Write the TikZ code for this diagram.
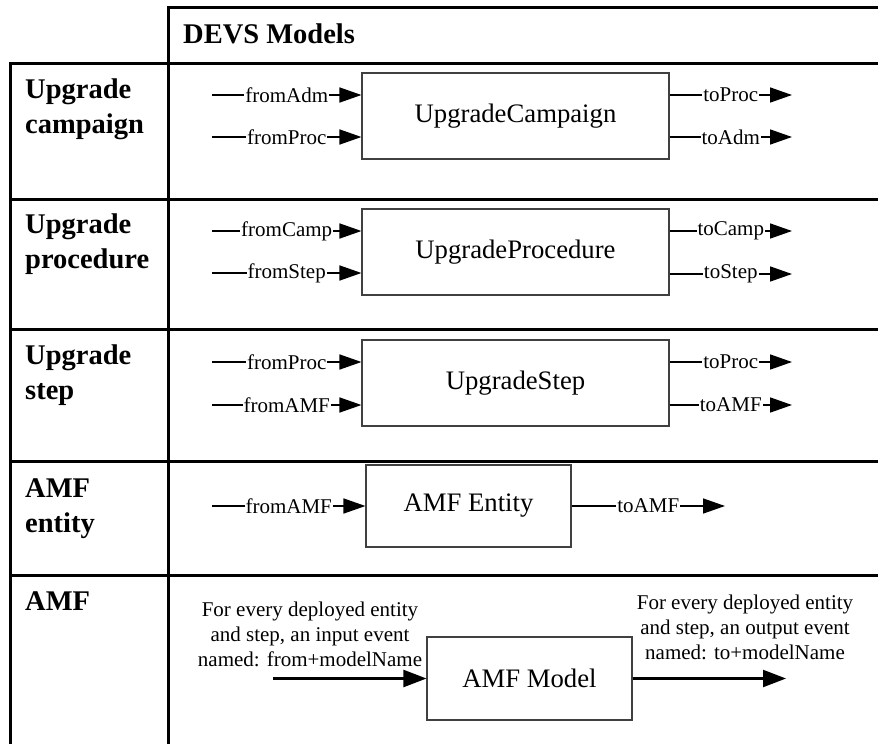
\documentclass[tikz,border=0pt]{standalone}
\usepackage{fontspec}
\setmainfont{Liberation Serif}
\usetikzlibrary{arrows.meta}
\begin{document}
\begin{tikzpicture}[x=1pt,y=-1pt,
  grid/.style={line width=3pt,line cap=rect},
  model/.style={draw=black!75,line width=1.1pt,fill=white,inner sep=0pt,font=\fontsize{26.7}{32}\selectfont},
  port/.style={line width=1.6pt,-{Triangle[length=22pt,width=15pt]}},
  bigport/.style={line width=2.2pt,-{Triangle[length=23pt,width=17pt]}},
  lbl/.style={fill=white,inner xsep=1pt,inner ysep=0pt,font=\fontsize{21}{25}\selectfont},
  rowhead/.style={anchor=base west,inner sep=0pt,font=\fontsize{28.5}{35}\selectfont\bfseries},
  note/.style={align=center,inner sep=0pt,font=\fontsize{21}{25}\selectfont}]
\useasboundingbox (0,0) rectangle (878,744);
% table
\draw[grid] (168,7) -- (878,7);
\draw[grid] (168,7) -- (168,744);
\draw[grid] (10,63) -- (10,744);
\foreach \yy in {63,199,329,461,575} \draw[grid] (10,\yy) -- (878,\yy);
\node[rowhead] (hdr) at (183,43) {DEVS Models};
% row headers
\node[rowhead] (h1a) at (25,98) {Upgrade};
\node[rowhead] (h1b) at (25,133) {campaign};
\node[rowhead] (h2a) at (25,233) {Upgrade};
\node[rowhead] (h2b) at (25,268) {procedure};
\node[rowhead] (h3a) at (25,364) {Upgrade};
\node[rowhead] (h3b) at (25,399) {step};
\node[rowhead] (h4a) at (25,497) {AMF};
\node[rowhead] (h4b) at (25,532) {entity};
\node[rowhead] (h5a) at (25,610) {AMF};
% models
\node[model,minimum width=307pt,minimum height=86pt] (cb) at (515.5,116) {UpgradeCampaign};
\node[model,minimum width=307pt,minimum height=86pt] (pb) at (515.5,252) {UpgradeProcedure};
\node[model,minimum width=307pt,minimum height=86pt] (sb) at (515.5,383) {UpgradeStep};
\node[model,minimum width=205pt,minimum height=82pt] (eb) at (468.5,506) {AMF Entity};
\node[model,minimum width=205pt,minimum height=83pt] (mb) at (529.5,678.5) {AMF Model};
% row 1
\coordinate (c1i) at (212,95); \coordinate (c2i) at (212,137);
\coordinate (c1o) at (792,95); \coordinate (c2o) at (792,137);
\draw[port] (c1i) -- node[lbl]{fromAdm} (c1i -| cb.west);
\draw[port] (c2i) -- node[lbl]{fromProc} (c2i -| cb.west);
\draw[port] (c1o -| cb.east) -- node[lbl]{toProc} (c1o);
\draw[port] (c2o -| cb.east) -- node[lbl]{toAdm} (c2o);
% row 2
\coordinate (p1i) at (212,231); \coordinate (p2i) at (212,273);
\coordinate (p1o) at (792,231); \coordinate (p2o) at (792,274);
\draw[port] (p1i) -- node[lbl]{fromCamp} (p1i -| pb.west);
\draw[port] (p2i) -- node[lbl]{fromStep} (p2i -| pb.west);
\draw[port] (p1o -| pb.east) -- node[lbl]{toCamp} (p1o);
\draw[port] (p2o -| pb.east) -- node[lbl]{toStep} (p2o);
% row 3
\coordinate (s1i) at (212,362); \coordinate (s2i) at (212,405);
\coordinate (s1o) at (792,362); \coordinate (s2o) at (792,405);
\draw[port] (s1i) -- node[lbl]{fromProc} (s1i -| sb.west);
\draw[port] (s2i) -- node[lbl]{fromAMF} (s2i -| sb.west);
\draw[port] (s1o -| sb.east) -- node[lbl]{toProc} (s1o);
\draw[port] (s2o -| sb.east) -- node[lbl]{toAMF} (s2o);
% row 4
\coordinate (e1i) at (212,506); \coordinate (e1o) at (725,506);
\draw[port] (e1i) -- node[lbl]{fromAMF} (eb.west);
\draw[port] (eb.east) -- node[lbl]{toAMF} (e1o);
% row 5
\coordinate (m1i) at (273,678.5); \coordinate (m1o) at (786,678.5);
\draw[bigport] (m1i) -- (mb.west);
\draw[bigport] (mb.east) -- (m1o);
\node[note] (nl) at (310,634) {For every deployed entity\\and step, an input event\\named: from+modelName};
\node[note] (nr) at (745,627) {For every deployed entity\\and step, an output event\\named: to+modelName};
\end{tikzpicture}
\end{document}
